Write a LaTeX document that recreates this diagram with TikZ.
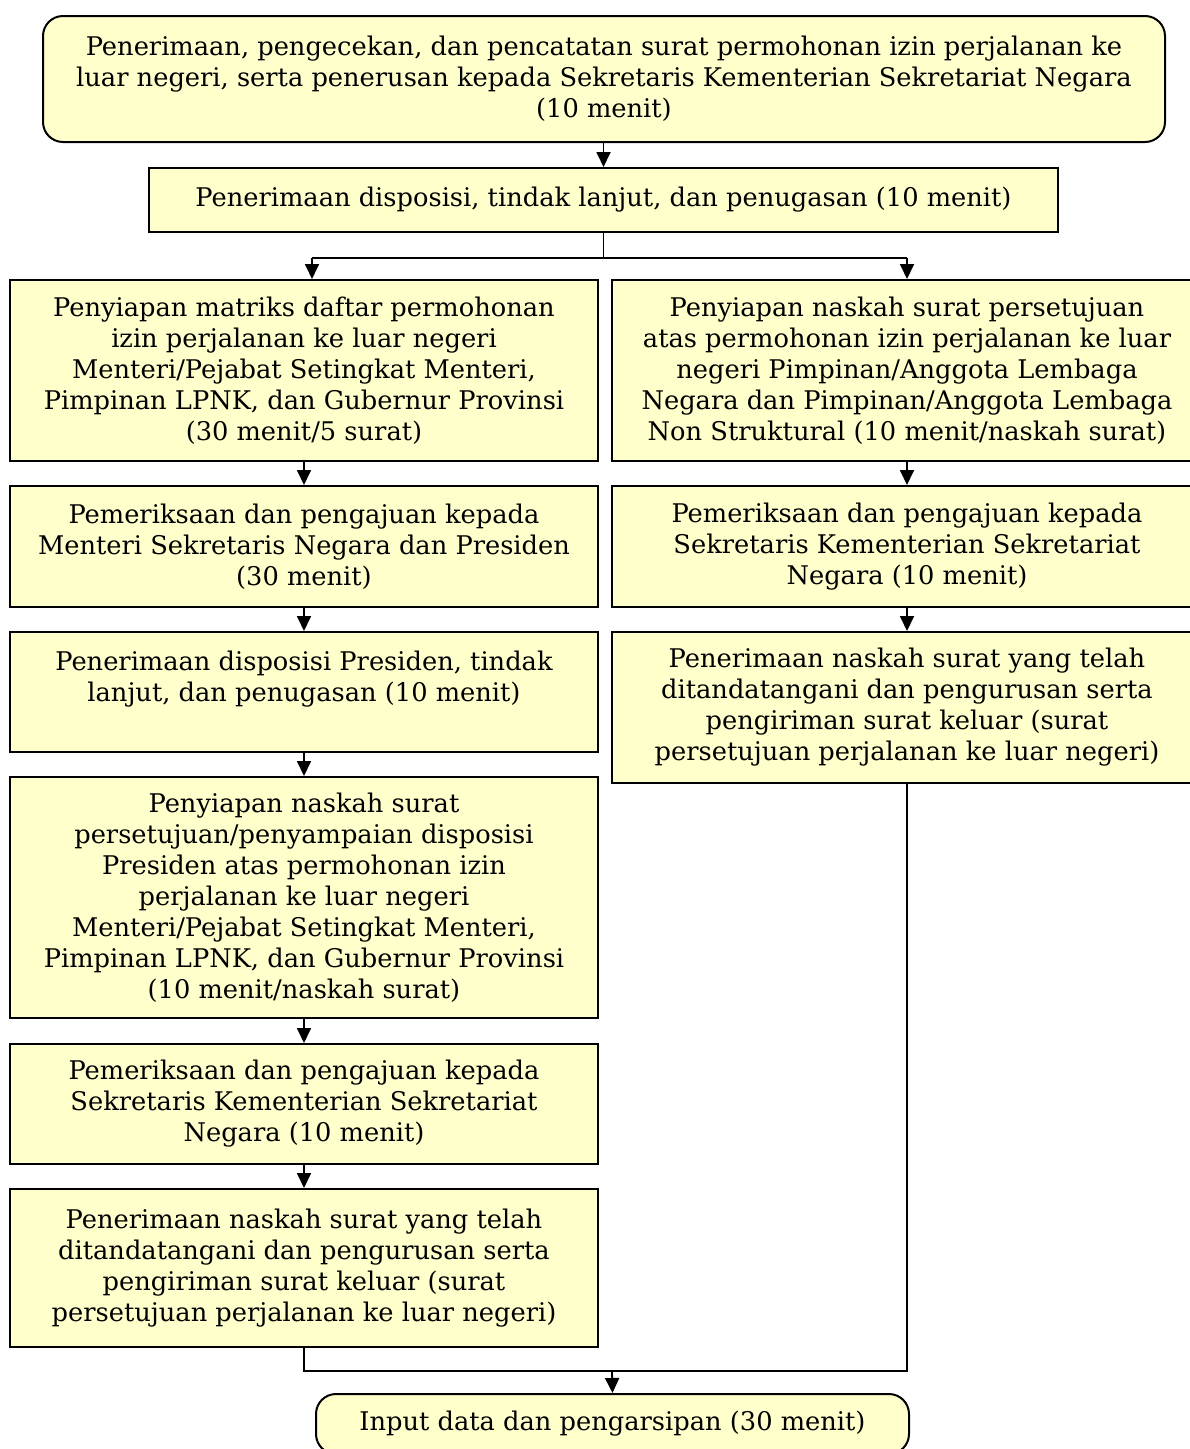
\documentclass[tikz,border=0pt]{standalone}
\usepackage{fontspec}
\setmainfont{DejaVu Serif}
\usetikzlibrary{arrows.meta}
\definecolor{boxfill}{RGB}{255,255,204}
\begin{document}
\begin{tikzpicture}[x=1pt,y=-1pt,
 box/.style={draw=black,line width=2pt,fill=boxfill,align=center,inner sep=0pt,font=\fontsize{25.7}{31}\selectfont},
 rbox/.style={box,rounded corners=20pt},
 arr/.style={line width=1.8pt,-{Triangle[length=15pt,width=14pt]}},
 ln/.style={line width=1.8pt}]
\useasboundingbox (0,0) rectangle (1190,1449);
% top
\node[rbox,minimum width=1122pt,minimum height=126pt] (top) at (604,79)
 {Penerimaan, pengecekan, dan pencatatan surat permohonan izin perjalanan ke\\
  luar negeri, serta penerusan kepada Sekretaris Kementerian Sekretariat Negara\\
  (10 menit)};
\node[box,minimum width=909pt,minimum height=64pt] (b2) at (603.5,200)
 {Penerimaan disposisi, tindak lanjut, dan penugasan (10 menit)};
% left column
\node[box,minimum width=588pt,minimum height=181pt] (l1) at (304,370.5)
 {Penyiapan matriks daftar permohonan\\
  izin perjalanan ke luar negeri\\
  Menteri/Pejabat Setingkat Menteri,\\
  Pimpinan LPNK, dan Gubernur Provinsi\\
  (30 menit/5 surat)};
\node[box,minimum width=588pt,minimum height=121pt] (l2) at (304,546.5)
 {Pemeriksaan dan pengajuan kepada\\
  Menteri Sekretaris Negara dan Presiden\\
  (30 menit)};
\node[box,minimum width=588pt,minimum height=120pt] (l3) at (304,692)
 {Penerimaan disposisi Presiden, tindak\\
  lanjut, dan penugasan (10 menit)\\ ~};
\node[box,minimum width=588pt,minimum height=241pt] (l4) at (304,897.5)
 {Penyiapan naskah surat\\
  persetujuan/penyampaian disposisi\\
  Presiden atas permohonan izin\\
  perjalanan ke luar negeri\\
  Menteri/Pejabat Setingkat Menteri,\\
  Pimpinan LPNK, dan Gubernur Provinsi\\
  (10 menit/naskah surat)};
\node[box,minimum width=588pt,minimum height=120pt] (l5) at (304,1104)
 {Pemeriksaan dan pengajuan kepada\\
  Sekretaris Kementerian Sekretariat\\
  Negara (10 menit)};
\node[box,minimum width=588pt,minimum height=158pt] (l6) at (304,1268)
 {Penerimaan naskah surat yang telah\\
  ditandatangani dan pengurusan serta\\
  pengiriman surat keluar (surat\\
  persetujuan perjalanan ke luar negeri)};
% right column
\node[box,minimum width=590pt,minimum height=181pt] (r1) at (907,370.5)
 {Penyiapan naskah surat persetujuan\\
  atas permohonan izin perjalanan ke luar\\
  negeri Pimpinan/Anggota Lembaga\\
  Negara dan Pimpinan/Anggota Lembaga\\
  Non Struktural (10 menit/naskah surat)};
\node[box,minimum width=590pt,minimum height=121pt] (r2) at (907,546.5)
 {Pemeriksaan dan pengajuan kepada\\
  Sekretaris Kementerian Sekretariat\\
  Negara (10 menit)};
\node[box,minimum width=590pt,minimum height=151pt] (r3) at (907,707.5)
 {Penerimaan naskah surat yang telah\\
  ditandatangani dan pengurusan serta\\
  pengiriman surat keluar (surat\\
  persetujuan perjalanan ke luar negeri)};
% final
\node[rbox,minimum width=593pt,minimum height=60pt] (fin) at (612.5,1424)
 {Input data dan pengarsipan (30 menit)};
% connectors
\coordinate (sl) at (312,258);
\coordinate (sr) at (907,258);
\coordinate (jl) at (304,1371);
\coordinate (jm) at (612,1371);
\draw[arr] (top.south -| b2.south) -- (b2.north);
\draw[line width=1.2pt] (b2.south) -- (b2.south |- sl);
\draw[ln] (sl) -- (sr);
\draw[arr] (sl) -- (sl |- l1.north);
\draw[arr] (sr) -- (sr |- r1.north);
\draw[arr] (l1) -- (l2);
\draw[arr] (l2) -- (l3);
\draw[arr] (l3) -- (l4);
\draw[arr] (l4) -- (l5);
\draw[arr] (l5) -- (l6);
\draw[arr] (r1) -- (r2);
\draw[arr] (r2) -- (r3);
\draw[ln] (l6.south) -- (jl) -| (r3.south);
\draw[arr] (jm) -- (fin.north);
\end{tikzpicture}
\end{document}
